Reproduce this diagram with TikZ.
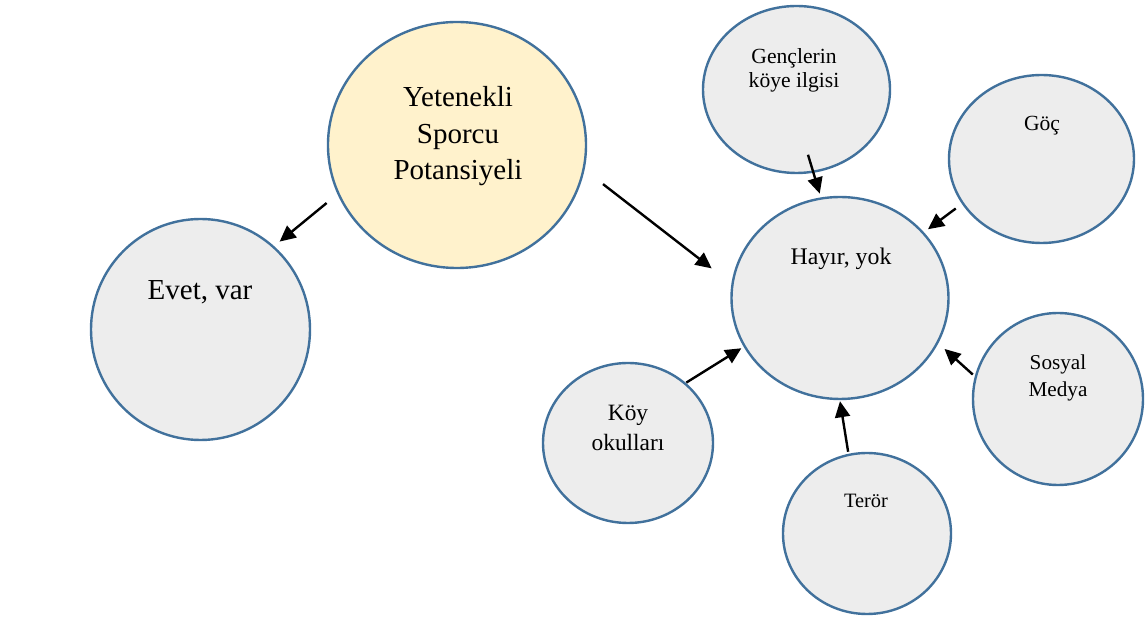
\documentclass[tikz,border=0pt]{standalone}
\usepackage{fontspec}
\setmainfont{Liberation Serif}
\usetikzlibrary{shapes.geometric,arrows.meta,calc}
\definecolor{bubline}{HTML}{41719C}
\definecolor{bubfill}{HTML}{EDEDED}
\definecolor{bubmain}{HTML}{FFF2CC}

\begin{document}
\begin{tikzpicture}[x=0.5pt,y=-0.5pt,
  bub/.style={ellipse, draw=bubline, line width=1.2pt, fill=bubfill, inner sep=0pt},
  txt/.style={inner sep=0pt, align=center},
  link/.style={-{Triangle[length=8pt,width=7.5pt]}, line width=1.2pt, black}]
\useasboundingbox (0,0) rectangle (1147,619);

\node[bub, fill=bubmain, minimum width=129pt, minimum height=123pt] (yet) at (457,145) {};
\node[bub, minimum width=109.5pt, minimum height=110.5pt] (evet) at (200.5,329.5) {};
\node[bub, minimum width=93.5pt, minimum height=83.5pt] (genc) at (796.5,89.5) {};
\node[bub, minimum width=92.5pt, minimum height=84pt] (goc) at (1041.5,159) {};
\node[bub, minimum width=108.5pt, minimum height=101pt] (hayir) at (840,298) {};
\node[bub, minimum width=85pt, minimum height=86pt] (sosyal) at (1058,399) {};
\node[bub, minimum width=85pt, minimum height=80pt] (koy) at (628,443) {};
\node[bub, minimum width=84pt, minimum height=80.5pt] (teror) at (867,533.5) {};

\node[txt, anchor=north, font={\fontsize{14.5}{18.25}\selectfont}] (yettxt) at (458,86.2) {Yetenekli\\Sporcu\\Potansiyeli};
\node[txt, anchor=base, font={\fontsize{14.5}{18}\selectfont}] (evettxt) at (200,300) {Evet, var};
\node[txt, anchor=north, font={\fontsize{10.8}{12.3}\selectfont}] (gencTxt) at (794,47.9) {Gençlerin\\köye ilgisi};
\node[txt, anchor=base, font={\fontsize{10.8}{13}\selectfont}] (goctxt) at (1042,130.7) {Göç};
\node[txt, anchor=base, font={\fontsize{11.9}{14}\selectfont}] (hayirtxt) at (841,265) {Hayır, yok};
\node[txt, anchor=north, font={\fontsize{10.6}{13.5}\selectfont}] (sosyaltxt) at (1058,354.5) {Sosyal\\Medya};
\node[txt, anchor=north, font={\fontsize{11.7}{15}\selectfont}] (koytxt) at (628,404.5) {Köy\\okulları};
\node[txt, anchor=base, font={\fontsize{10.2}{12}\selectfont}] (terortxt) at (866,507.3) {Terör};

\draw[link] ($(yet.center)!1.105!(yet.204)$) -- ($(evet.center)!1.063!(evet.48)$);
\draw[link] ($(yet.center)!1.165!(yet.345)$) -- ($(hayir.center)!1.205!(hayir.167)$);
\draw[link] ($(genc.center)!0.78!(genc.280)$) -- ($(hayir.center)!1.038!(hayir.101)$);
\draw[link] ($(goc.center)!1.084!(goc.210)$) -- ($(hayir.center)!1.047!(hayir.38)$);
\draw[link] ($(sosyal.center)!1.027!(sosyal.164)$) -- ($(hayir.center)!1.075!(hayir.334)$);
\draw[link] ($(koy.center)!1.006!(koy.46)$) -- ($(hayir.center)!1.025!(hayir.207)$);
\draw[link] ($(teror.center)!1.025!(teror.103)$) -- ($(hayir.center)!1.01!(hayir.270)$);
\end{tikzpicture}
\end{document}
